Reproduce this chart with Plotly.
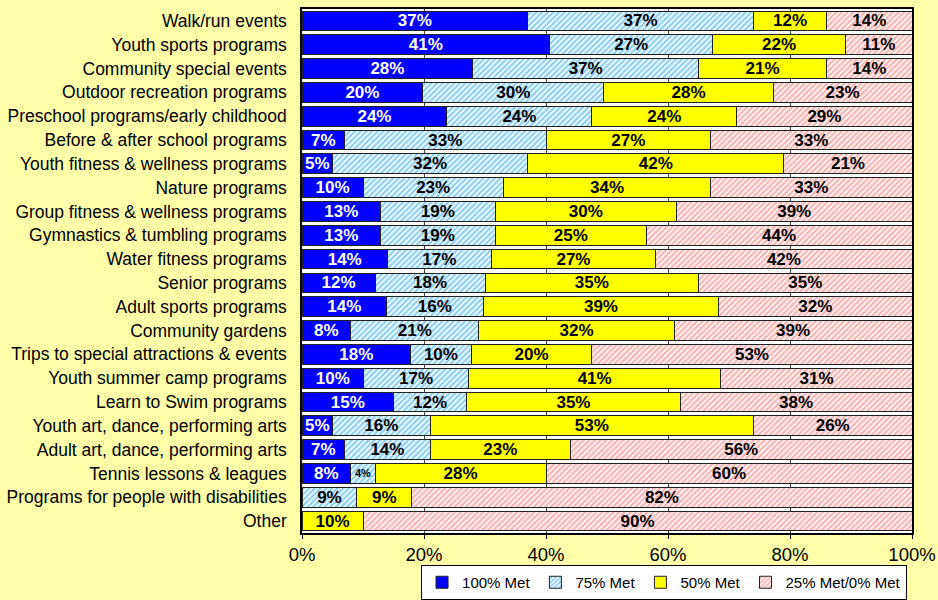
import plotly.graph_objects as go

categories = [
    "Walk/run events", "Youth sports programs", "Community special events",
    "Outdoor recreation programs", "Preschool programs/early childhood",
    "Before & after school programs", "Youth fitness & wellness programs",
    "Nature programs", "Group fitness & wellness programs",
    "Gymnastics & tumbling programs", "Water fitness programs", "Senior programs",
    "Adult sports programs", "Community gardens",
    "Trips to special attractions & events", "Youth summer camp programs",
    "Learn to Swim programs", "Youth art, dance, performing arts",
    "Adult art, dance, performing arts", "Tennis lessons & leagues",
    "Programs for people with disabilities", "Other",
]

met100 = [37, 41, 28, 20, 24, 7, 5, 10, 13, 13, 14, 12, 14, 8, 18, 10, 15, 5, 7, 8, 0, 0]
met75 = [37, 27, 37, 30, 24, 33, 32, 23, 19, 19, 17, 18, 16, 21, 10, 17, 12, 16, 14, 4, 9, 0]
met50 = [12, 22, 21, 28, 24, 27, 42, 34, 30, 25, 27, 35, 39, 32, 20, 41, 35, 53, 23, 28, 9, 10]
met25 = [14, 11, 14, 23, 29, 33, 21, 33, 39, 44, 42, 35, 32, 39, 53, 31, 38, 26, 56, 60, 82, 90]

series_names = ["100% Met", "75% Met", "50% Met", "25% Met/0% Met"]
FONT = "Liberation Sans, Arial, sans-serif"
BG = "#FFFFAA"


def labels(vals):
    return [f"{v}%" if v > 0 else "" for v in vals]


def sizes(vals):
    # tiny segments get a smaller label, like the original
    return [17 if v >= 5 else 11 for v in vals]


def add_series(vals, name, marker, txtcolor):
    fig.add_trace(go.Bar(
        y=categories, x=vals, name=name, orientation="h", marker=marker,
        text=labels(vals), textposition="inside", insidetextanchor="middle",
        constraintext="none", textangle=0,
        textfont=dict(color=txtcolor, size=sizes(vals), family=FONT, weight="bold"),
    ))


outline = dict(color="#222222", width=1)
fig = go.Figure()
add_series(met100, series_names[0], dict(color="#0000FF", line=outline), "white")
add_series(met75, series_names[1],
           dict(color="#E6F6FF", line=outline,
                pattern=dict(shape="/", fgcolor="#25A0E0", bgcolor="#EEFAFF",
                             size=4, solidity=0.5)), "black")
add_series(met50, series_names[2], dict(color="#FFFF00", line=outline), "black")
add_series(met25, series_names[3],
           dict(color="#FFE6E6", line=outline,
                pattern=dict(shape="/", fgcolor="#F07070", bgcolor="#FFF2F2",
                             size=4, solidity=0.5)), "black")

fig.update_layout(
    width=938, height=600,
    barmode="stack", barnorm="percent", bargap=0.17,
    paper_bgcolor=BG, plot_bgcolor="#FFFFFF",
    margin=dict(l=302, r=26, t=9, b=67, autoexpand=False),
    font=dict(family=FONT, color="black"),
    legend=dict(orientation="h", xref="container", yref="container",
                x=0.967, xanchor="right", y=0.0, yanchor="bottom",
                bgcolor="#FFFFFF", bordercolor="black", borderwidth=1,
                font=dict(size=15), traceorder="normal", itemwidth=30,
                tracegroupgap=0),
)
fig.update_xaxes(range=[0, 100], dtick=20, ticksuffix="%", automargin=False,
                 tickfont=dict(size=18.5), showgrid=True, gridcolor="#444444",
                 gridwidth=1, showline=True, linecolor="black", linewidth=1.5,
                 mirror=True, ticks="outside", ticklen=4, tickcolor="black",
                 zeroline=False)
fig.update_yaxes(autorange="reversed", tickfont=dict(size=17.5), automargin=False,
                 showline=True, linecolor="black", linewidth=1.5, mirror=True,
                 ticks="", ticklabelstandoff=10)

# drop the default 8px page margin so the chart fills the window
fig.write_html("out.html", config={"displayModeBar": False},
               post_script="document.body.style.margin='0';"
                           f"document.body.style.background='{BG}';")
